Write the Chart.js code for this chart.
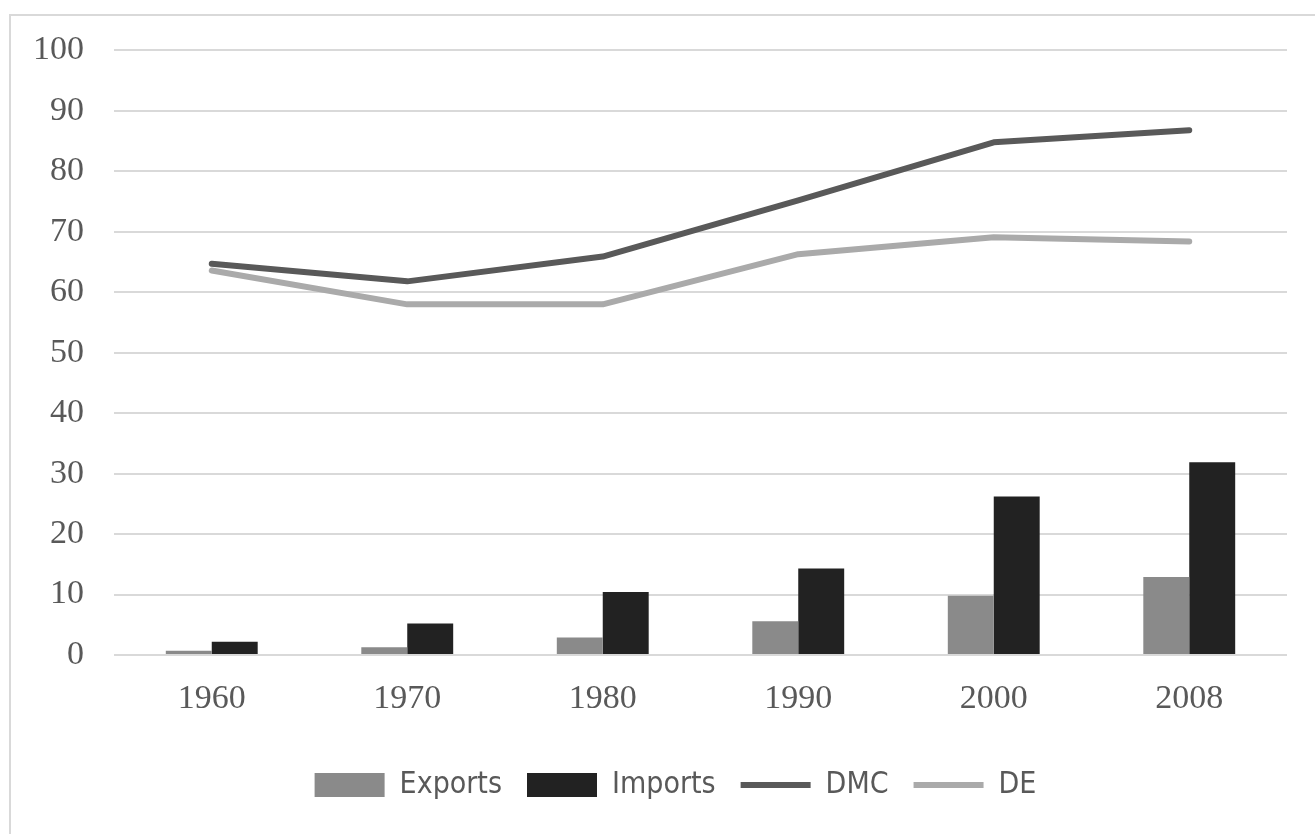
<!DOCTYPE html>
<html>
<head>
<meta charset="utf-8">
<title>Material flows</title>
<script src="https://cdn.jsdelivr.net/npm/chart.js@4/dist/chart.umd.min.js"></script>
<style>
  html, body { margin: 0; padding: 0; background: #ffffff; overflow: hidden; }
  #frame {
    position: absolute; left: 9px; top: 14px; width: 1330px; height: 840px;
    border: 2px solid #d9d9d9; box-sizing: border-box;
  }
  #chart { position: absolute; left: 0; top: 0; }
</style>
</head>
<body>
<div id="frame"></div>
<canvas id="chart" width="1315" height="834"></canvas>
<script>
// Years on the category axis
const years = ['1960', '1970', '1980', '1990', '2000', '2008'];

// Trade flows (bars)
const exportsValues = [0.7, 1.3, 2.9, 5.6, 9.8, 12.9];
const importsValues = [2.2, 5.2, 10.4, 14.3, 26.2, 31.9];

// Domestic material consumption and domestic extraction (lines)
const dmcValues = [64.7, 61.8, 65.9, 75.2, 84.8, 86.8];
const deValues = [63.6, 58.0, 58.0, 66.3, 69.1, 68.4];

// Value axis ticks
const yTicks = [0, 10, 20, 30, 40, 50, 60, 70, 80, 90, 100];

const tickFont = { family: "'Liberation Serif', 'DejaVu Serif', serif", size: 34 };
const legendFont = { family: "'Liberation Sans Narrow', 'DejaVu Sans Condensed', 'Liberation Sans', sans-serif", size: 30 };
const textColor = '#595959';
const gridColor = '#d9d9d9';

// Centre the legend row under the plot area rather than under the whole canvas
const legendUnderPlot = {
  id: 'legendUnderPlot',
  afterLayout(chart) {
    if (chart.legend) {
      chart.legend.left = chart.chartArea.left - 50;
    }
  }
};

new Chart(document.getElementById('chart'), {
  plugins: [legendUnderPlot],
  data: {
    labels: years,
    datasets: [
      {
        type: 'bar', label: 'Exports', data: exportsValues,
        backgroundColor: '#8a8a8a', borderWidth: 0,
        categoryPercentage: 0.47, barPercentage: 1.0, pointStyle: 'rect'
      },
      {
        type: 'bar', label: 'Imports', data: importsValues,
        backgroundColor: '#222222', borderWidth: 0,
        categoryPercentage: 0.47, barPercentage: 1.0, pointStyle: 'rect'
      },
      {
        type: 'line', label: 'DMC', data: dmcValues,
        borderColor: '#595959', backgroundColor: '#595959', borderWidth: 6,
        borderCapStyle: 'round', borderJoinStyle: 'round',
        pointRadius: 0, pointHoverRadius: 0, pointStyle: 'line', tension: 0
      },
      {
        type: 'line', label: 'DE', data: deValues,
        borderColor: '#aaaaaa', backgroundColor: '#aaaaaa', borderWidth: 6,
        borderCapStyle: 'round', borderJoinStyle: 'round',
        pointRadius: 0, pointHoverRadius: 0, pointStyle: 'line', tension: 0
      }
    ]
  },
  options: {
    responsive: false,
    animation: false,
    layout: { padding: { left: 0, right: 28, top: 49, bottom: 24 } },
    plugins: {
      tooltip: { enabled: false },
      legend: {
        position: 'bottom',
        labels: {
          usePointStyle: true,
          pointStyleWidth: 70,
          boxHeight: 24,
          padding: 25,
          color: textColor,
          font: legendFont
        }
      }
    },
    scales: {
      x: {
        grid: { display: false, drawTicks: false },
        border: { display: false },
        ticks: { color: textColor, font: tickFont, padding: 24, maxRotation: 0 },
        afterFit: (scale) => { scale.height = 90; }
      },
      y: {
        min: 0, max: 100,
        afterBuildTicks: (scale) => { scale.ticks = yTicks.map(v => ({ value: v })); },
        grid: { color: gridColor, lineWidth: 2, drawTicks: false },
        border: { display: false },
        ticks: { color: textColor, font: tickFont, padding: 30 },
        afterFit: (scale) => { scale.width = 114; }
      }
    }
  }
});
</script>
</body>
</html>
